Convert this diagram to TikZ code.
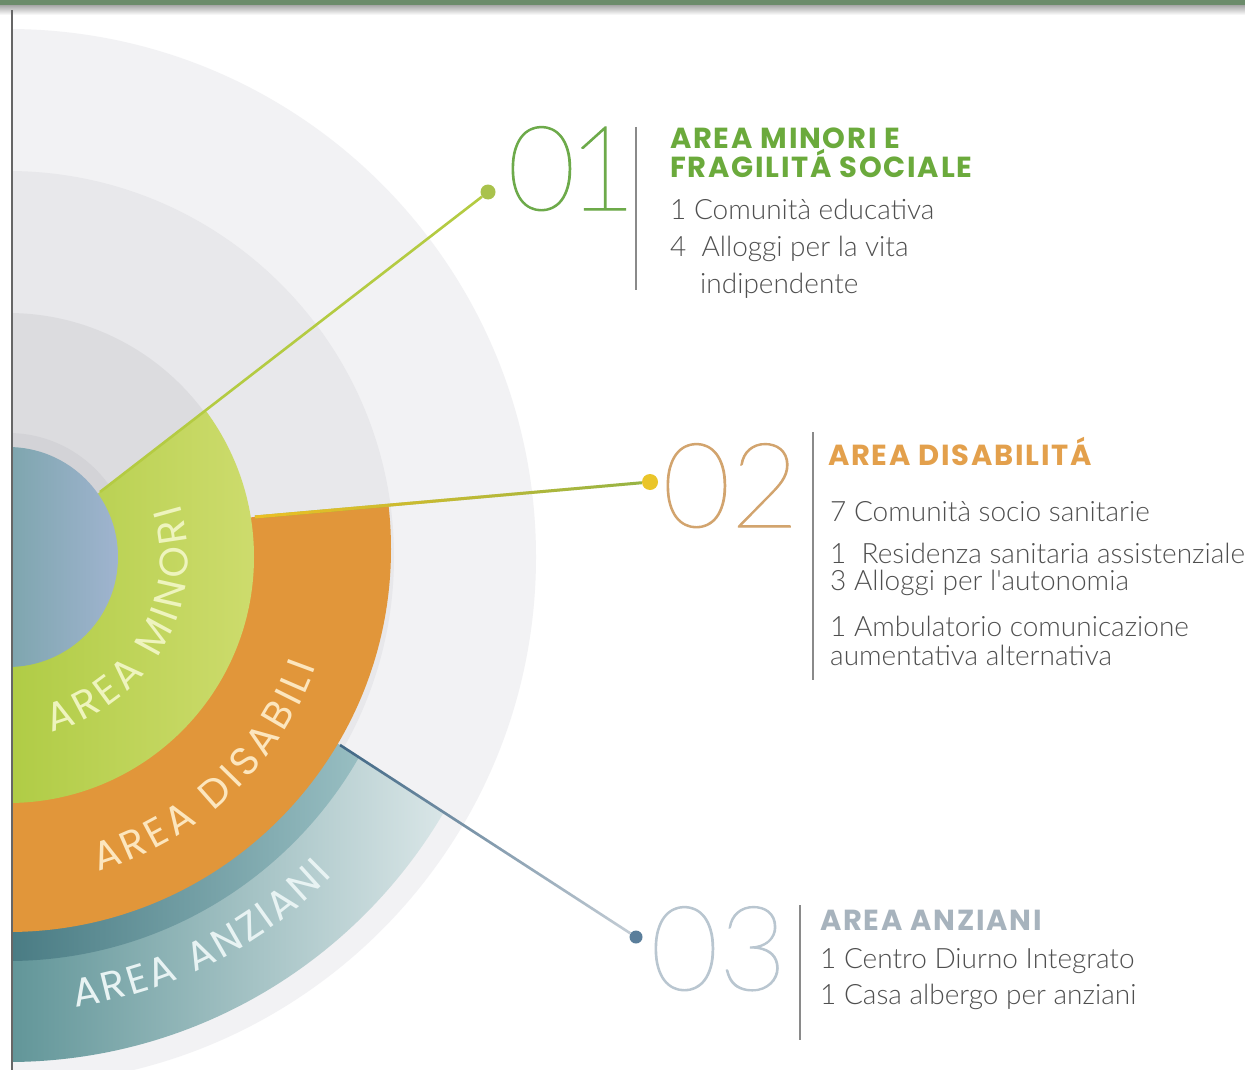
\documentclass[tikz,border=0pt]{standalone}
\usepackage{fontspec}
\usetikzlibrary{calc,decorations.text,fadings}
\newfontfamily\bodyfont{Lato Light}
\newfontfamily\numfont{Lato Hairline}[FakeBold=1]
\newfontfamily\headfont{Poppins}[LetterSpace=6]
\newfontfamily\ringfont{Poppins}
\definecolor{hdrgreen}{HTML}{6B8B6A}
\definecolor{outerg}{HTML}{F2F2F4}
\definecolor{ringtwo}{HTML}{E8E8EB}
\definecolor{ringthree}{HTML}{DCDCDF}
\definecolor{halo}{HTML}{D3D3D7}
\definecolor{blueL}{HTML}{7FA6AF}
\definecolor{blueR}{HTML}{A0B4D0}
\definecolor{greenL}{HTML}{B0CC46}
\definecolor{greenR}{HTML}{CEDC6E}
\definecolor{orangeC}{HTML}{E1963A}
\definecolor{tealL}{HTML}{629699}
\definecolor{tealM}{HTML}{98BEC2}
\definecolor{tealR}{HTML}{F0F5F6}
\definecolor{shadowC}{HTML}{4A7C84}
\definecolor{lineone}{HTML}{B4CB42}
\definecolor{dotone}{HTML}{A9C24C}
\definecolor{lineyel}{HTML}{EEC023}
\definecolor{linegrn}{HTML}{97B445}
\definecolor{dottwo}{HTML}{EAC52A}
\definecolor{linedark}{HTML}{3F6785}
\definecolor{linepale}{HTML}{C5CED6}
\definecolor{dotthree}{HTML}{5A7E9B}
\definecolor{numone}{HTML}{6DAA4A}
\definecolor{numtwo}{HTML}{D2A46E}
\definecolor{numthree}{HTML}{B9C6D0}
\definecolor{headone}{HTML}{6BAA3C}
\definecolor{headtwo}{HTML}{E3A04C}
\definecolor{headthree}{HTML}{A7B3BD}
\definecolor{bodygray}{HTML}{4F4F4F}
\definecolor{sepgray}{HTML}{8A8A8A}
\definecolor{minoritxt}{HTML}{EEF4BE}
\definecolor{disabtxt}{HTML}{FCE6BE}
\definecolor{anztxt}{HTML}{E8F3F3}
\begin{document}
\begin{tikzpicture}[x=1pt,y=1pt,
  bodytxt/.style={anchor=base west, inner sep=0pt, text=bodygray, font=\bodyfont\fontsize{28}{30}\selectfont},
  headtxt/.style={anchor=base west, inner sep=0pt, font=\headfont\bfseries\fontsize{29}{30}\selectfont},
  numtxt/.style={anchor=base west, inner sep=0pt, font=\numfont\fontsize{118}{118}\selectfont},
  dotnode/.style={circle, inner sep=0pt, minimum size=#1},
  sepline/.style={draw=sepgray, line width=1.6pt},
  ringtxt/.style 2 args={decorate, decoration={text along path, text={|\ringfont\fontsize{40}{40}\selectfont|#1}, text color=#2, text align={fit to path}}}
]
\useasboundingbox (0,0) rectangle (1245,-1070);
\fill[white] (0,0) rectangle (1245,-1070);
\coordinate (C) at (8,-557);
\coordinate (CO) at (8,-549);
% header bar
\shade[top color=black!35, bottom color=white] (0,-5) rectangle (1245,-15);
\fill[hdrgreen] (0,0) rectangle (1245,-5.5);

% connector end points
\coordinate (s1) at (100,-492);
\coordinate (s2) at (255,-517);
\coordinate (s3) at (340,-745);
\coordinate (p1) at (488,-192);
\coordinate (p2) at (650,-482);
\coordinate (p3) at (636,-937);

\begin{scope}
\clip (13,0) rectangle (1245,-1070);
\fill[outerg] (C) circle (528);
\fill[ringtwo] (C) circle (386);
\fill[ringthree] (C) circle (244);
\fill[halo] (C) circle (124);
% teal
\begin{scope}
 \clip ($(s3)!-3!(p3)$) -- ($(s3)!3!(p3)$) -- (1300,-1300) -- (-300,-1300) -- cycle;
 \clip (C) circle (505);
 \shade[left color=tealL, middle color=tealM, right color=tealR] (13,-500) rectangle (525,-1070);
 \begin{scope}
  \clip (C) circle (404);
  \shade[left color=shadowC, right color=tealM] (13,-700) rectangle (360,-1070);
 \end{scope}
\end{scope}
% orange
\begin{scope}
 \clip ($(s2)!-3!(p2)$) -- ($(s2)!3!(p2)$) -- (1300,-1300) -- (-300,-1300) -- cycle;
 \fill[orangeC] (CO) circle (383);
\end{scope}
% green
\begin{scope}
 \clip ($(s1)!-3!(p1)$) -- ($(s1)!3!(p1)$) -- (1300,-1300) -- (-300,-1300) -- cycle;
 \clip (C) circle (246);
 \shade[left color=greenL, right color=greenR] (13,-300) rectangle (262,-810);
\end{scope}
% blue core
\begin{scope}
 \clip (C) circle (110);
 \shade[left color=blueL, right color=blueR] (13,-440) rectangle (120,-680);
\end{scope}
\end{scope}

% ring labels
\path[ringtxt={AREA MINORI}{minoritxt}] ($(C)+(-76:180)$) arc[start angle=-76, end angle=17, radius=180];
\path[ringtxt={AREA DISABILI}{disabtxt}] ($(C)+(-74:327)$) arc[start angle=-74, end angle=-19.5, radius=327];
\path[ringtxt={AREA ANZIANI}{anztxt}] ($(C)+(-81.5:455)$) arc[start angle=-81.5, end angle=-44.5, radius=455];

% left rule
\draw[color=black!60, line width=1.5pt] (12,-10) -- (12,-1070);

% dots and connectors
\node[dotnode=15, fill=dotone] (d1) at (p1) {};
\node[dotnode=16, fill=dottwo] (d2) at (p2) {};
\node[dotnode=13, fill=dotthree] (d3) at (p3) {};
\draw[lineone, line width=2.6pt] (s1) -- (d1);
\draw[linegrn, line width=3pt] (s2) -- (d2);
\draw[lineyel, line width=3pt, path fading=east] (s2) -- (d2);
\draw[linepale, line width=2.6pt] (s3) -- (d3);
\draw[linedark, line width=2.6pt, path fading=east] (s3) -- (d3);

% block 1
\node[numtxt, text=numone] (n1) at (507,-210) {0\kern-8pt 1};
\draw[sepline] (636,-127) -- (636,-290);
\node[headtxt, text=headone] (h1a) at (670,-149) {AREA MINORI E};
\node[headtxt, text=headone] (h1b) at (670,-177) {FRAGILITÁ SOCIALE};
\node[bodytxt] (b1a) at (670,-219) {1 Comunità educativa};
\node[bodytxt] (b1b) at (670,-256) {4\ \ Alloggi per la vita};
\node[bodytxt] (b1c) at (700,-293) {indipendente};

% block 2
\node[numtxt, text=numtwo] (n2) at (662,-527) {02};
\draw[sepline] (813,-432) -- (813,-680);
\node[headtxt, text=headtwo] (h2) at (828,-465) {AREA DISABILITÁ};
\node[bodytxt] (b2a) at (830,-521) {7 Comunità socio sanitarie};
\node[bodytxt] (b2b) at (830,-563) {1\ \ Residenza sanitaria assistenziale};
\node[bodytxt] (b2c) at (830,-590) {3 Alloggi per l'autonomia};
\node[bodytxt] (b2d) at (830,-636) {1 Ambulatorio comunicazione};
\node[bodytxt] (b2e) at (830,-665) {aumentativa alternativa};

% block 3
\node[numtxt, text=numthree] (n3) at (650,-990) {03};
\draw[sepline] (800,-905) -- (800,-1040);
\node[headtxt, text=headthree] (h3) at (820,-930) {AREA ANZIANI};
\node[bodytxt] (b3a) at (820,-968) {1 Centro Diurno Integrato};
\node[bodytxt] (b3b) at (820,-1004) {1 Casa albergo per anziani};
\end{tikzpicture}
\end{document}
